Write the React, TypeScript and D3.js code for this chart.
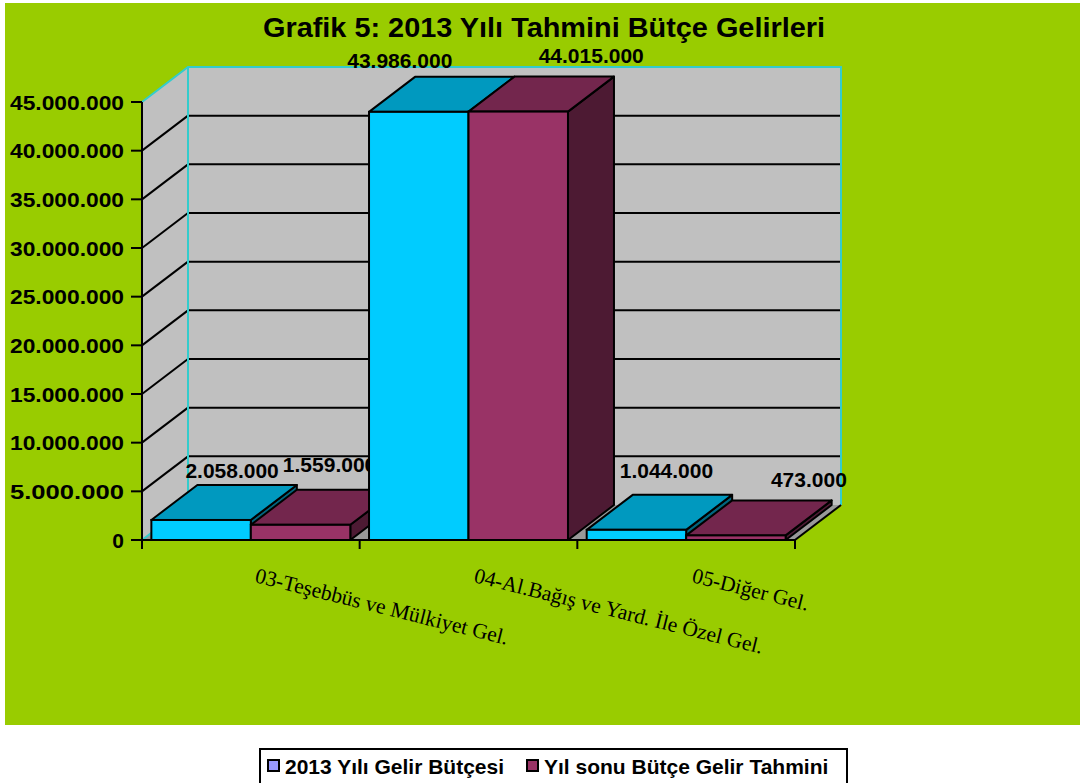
import React from "react";
import * as d3 from "d3";

const title = "Grafik 5: 2013 Yılı Tahmini Bütçe Gelirleri";
const categories = [
  "03-Teşebbüs ve Mülkiyet Gel.",
  "04-Al.Bağış ve Yard. İle Özel Gel.",
  "05-Diğer Gel.",
];
const seriesNames = ["2013 Yılı Gelir Bütçesi", "Yıl sonu Bütçe Gelir Tahmini"];
const budget2013 = [2058000, 43986000, 1044000];
const yearEndEstimate = [1559000, 44015000, 473000];
const yTicks = [0, 5000000, 10000000, 15000000, 20000000, 25000000, 30000000, 35000000, 40000000, 45000000];

const W = 1080;
const H = 783;

// layout
const X0 = 142;
const X1 = 795;
const Y0 = 540;
const Y1 = 102;
const DX = 46;
const DY = 35;

const seriesColors = [
  { front: "#00CCFF", top: "#0099BF", side: "#00667F", legend: "#9999FF" },
  { front: "#993366", top: "#73264D", side: "#4D1A33", legend: "#993366" },
];

// label nudges [dx, dyFromTopBack] per series per category
const labelNudge = [
  [[8, -7], [-42, -9], [7, -17]],
  [[6, -18], [50, -14], [50, -13]],
];
const catLabelStart = [
  [254, 582],
  [473, 582],
  [691, 582],
];

const fmt = (v: number) => d3.format(",")(v).replace(/,/g, ".");

export default function App() {
  const y = d3.scaleLinear().domain([0, 45000000]).range([Y0, Y1]);
  const xCat = d3
    .scaleBand<string>()
    .domain(categories)
    .range([X0, X1])
    .paddingInner(0.086)
    .paddingOuter(0.043);
  const xSer = d3
    .scaleBand<string>()
    .domain(seriesNames)
    .range([0, xCat.bandwidth()])
    .padding(0);
  const values = [budget2013, yearEndEstimate];
  const step = xCat.step();
  const catTicks = [0, 1, 2, 3].map((i) => X0 + i * step);

  const pts = (arr: number[][]) => arr.map((p) => p.join(",")).join(" ");
  const font = "'Liberation Sans', Arial, sans-serif";

  const bars: React.ReactNode[] = [];
  categories.forEach((c, ci) => {
    values.forEach((vals, si) => {
      const v = vals[ci];
      const x = (xCat(c) as number) + (xSer(seriesNames[si]) as number);
      const w = xSer.bandwidth();
      const yt = y(v);
      const col = seriesColors[si];
      const sw = 2;
      bars.push(
        <g key={`b${ci}-${si}`}>
          <polygon
            points={pts([
              [x + w, yt],
              [x + w + DX, yt - DY],
              [x + w + DX, Y0 - DY],
              [x + w, Y0],
            ])}
            fill={col.side}
            stroke="#000"
            strokeWidth={sw}
            strokeLinejoin="round"
          />
          <polygon
            points={pts([
              [x, yt],
              [x + DX, yt - DY],
              [x + w + DX, yt - DY],
              [x + w, yt],
            ])}
            fill={col.top}
            stroke="#000"
            strokeWidth={sw}
            strokeLinejoin="round"
          />
          <rect x={x} y={yt} width={w} height={Y0 - yt} fill={col.front} stroke="#000" strokeWidth={sw} />
          <text
            x={x + w / 2 + DX / 2 + labelNudge[si][ci][0]}
            y={yt - DY + labelNudge[si][ci][1]}
            textAnchor="middle"
            fontFamily={font}
            fontWeight="bold"
            fontSize={21}
            fill="#000"
          >
            {fmt(v)}
          </text>
        </g>
      );
    });
  });

  return (
    <svg
      width={W}
      height={H}
      style={{ position: "absolute", left: 0, top: 0, background: "#fff" }}
    >
      <rect x={5} y={3} width={W - 5} height={722} fill="#99CC00" />
      <text
        x={544}
        y={37}
        textAnchor="middle"
        fontFamily={font}
        fontWeight="bold"
        fontSize={27}
        textLength={562}
        lengthAdjust="spacingAndGlyphs"
      >
        {title}
      </text>

      {/* floor */}
      <polygon
        points={pts([
          [X0, Y0],
          [X0 + DX, Y0 - DY],
          [X1 + DX, Y0 - DY],
          [X1, Y0],
        ])}
        fill="#999999"
      />
      {/* left wall */}
      <polygon
        points={pts([
          [X0, Y0],
          [X0 + DX, Y0 - DY],
          [X0 + DX, Y1 - DY],
          [X0, Y1],
        ])}
        fill="#C0C0C0"
      />
      {/* back wall */}
      <rect x={X0 + DX} y={Y1 - DY} width={X1 - X0} height={Y0 - Y1} fill="#C0C0C0" />
      {yTicks
        .filter((t) => t > 0 && t < 45000000)
        .map((t) => (
          <g key={`g${t}`}>
            <line x1={X0} y1={y(t)} x2={X0 + DX} y2={y(t) - DY} stroke="#000" strokeWidth={2} />
            <line x1={X0 + DX} y1={y(t) - DY} x2={X1 + DX} y2={y(t) - DY} stroke="#000" strokeWidth={2} />
          </g>
        ))}
      {/* wall borders */}
      <polyline
        points={pts([
          [X0, Y1],
          [X0 + DX, Y1 - DY],
          [X1 + DX, Y1 - DY],
          [X1 + DX, Y0 - DY],
        ])}
        fill="none"
        stroke="#33CCCC"
        strokeWidth={2}
      />
      <line x1={X0 + DX} y1={Y1 - DY} x2={X0 + DX} y2={Y0 - DY} stroke="#33CCCC" strokeWidth={2} />
      <line x1={X0} y1={Y0} x2={X0 + DX} y2={Y0 - DY} stroke="#33CCCC" strokeWidth={2} />
      <line x1={X1} y1={Y0} x2={X1 + DX} y2={Y0 - DY} stroke="#000" strokeWidth={2} />

      {bars}

      {/* y axis */}
      <line x1={X0} y1={Y0 + 8} x2={X0} y2={Y1} stroke="#000" strokeWidth={2} />
      {yTicks.map((t) => {
        const s = fmt(t);
        return (
          <g key={`t${t}`}>
            <line x1={X0 - 11} y1={y(t)} x2={X0} y2={y(t)} stroke="#000" strokeWidth={2} />
            <text
              x={X0 - 18}
              y={y(t)}
              dy="0.36em"
              textAnchor="end"
              fontFamily={font}
              fontWeight="bold"
              fontSize={21}
              textLength={s.length > 1 ? 114 : undefined}
              lengthAdjust="spacingAndGlyphs"
            >
              {s}
            </text>
          </g>
        );
      })}
      {/* x axis */}
      <line x1={X0} y1={Y0} x2={X1} y2={Y0} stroke="#000" strokeWidth={2} />
      {catTicks.map((cx, i) => (
        <line key={`xt${i}`} x1={cx} y1={Y0} x2={cx} y2={Y0 + 9} stroke="#000" strokeWidth={2} />
      ))}
      {categories.map((c, i) => (
        <text
          key={`xl${i}`}
          transform={`translate(${catLabelStart[i][0]},${catLabelStart[i][1]}) rotate(14)`}
          fontFamily="'Liberation Serif', 'Times New Roman', serif"
          fontSize={21.5}
        >
          {c}
        </text>
      ))}

      {/* legend */}
      <rect x={260} y={749} width={587} height={40} fill="#fff" stroke="#000" strokeWidth={2} />
      {seriesNames.map((s, i) => {
        const mx = i === 0 ? 268 : 527;
        return (
          <g key={`lg${i}`}>
            <rect x={mx} y={760} width={11} height={11} fill={seriesColors[i].legend} stroke="#000" strokeWidth={2} />
            <text x={mx + 17} y={774} fontFamily={font} fontWeight="bold" fontSize={21}>
              {s}
            </text>
          </g>
        );
      })}
    </svg>
  );
}
